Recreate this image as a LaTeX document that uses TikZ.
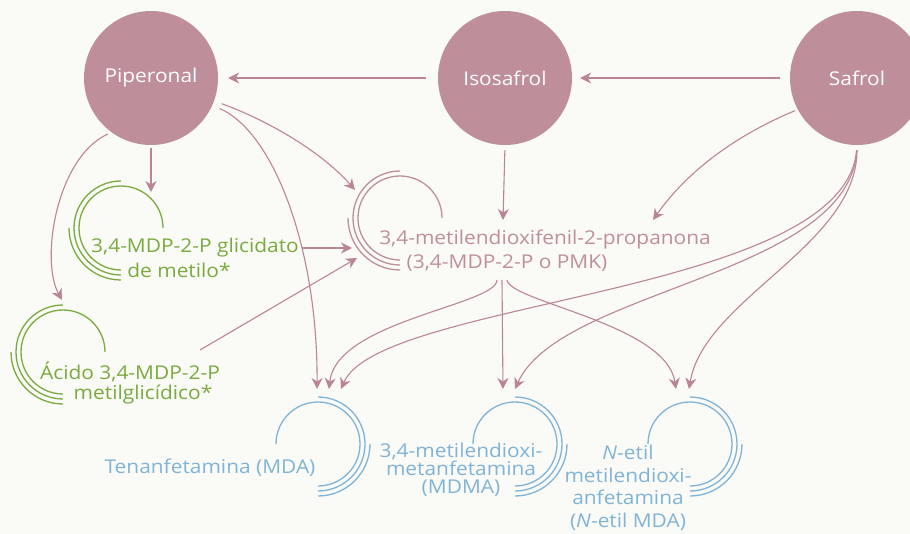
\documentclass[tikz,border=0pt]{standalone}
\usepackage{fontspec}
\setmainfont{Open Sans}[FakeStretch=1.1]
\usetikzlibrary{arrows.meta}
\definecolor{mauve}{RGB}{190,143,155}
\definecolor{arrowc}{RGB}{186,134,150}
\definecolor{leaf}{RGB}{122,170,62}
\definecolor{sky}{RGB}{128,180,214}
\definecolor{bgc}{RGB}{250,250,246}
\newcommand\arcsL[2]{%
  \draw[#2,arcline] ([shift={(0:42)}]#1) arc[start angle=0,end angle=-270,radius=42];
  \draw[#2,arcline] ([shift={(-90:47)}]#1) arc[start angle=-90,end angle=-270,radius=47];
  \draw[#2,arcline] ([shift={(-180:52)}]#1) arc[start angle=-180,end angle=-270,radius=52];}
\newcommand\arcsR[2]{%
  \draw[#2,arcline] ([shift={(180:42)}]#1) arc[start angle=-180,end angle=90,radius=42];
  \draw[#2,arcline] ([shift={(-90:47)}]#1) arc[start angle=-90,end angle=90,radius=47];
  \draw[#2,arcline] ([shift={(0:52)}]#1) arc[start angle=0,end angle=90,radius=52];}
\begin{document}
\begin{tikzpicture}[x=1pt,y=-1pt,
  circ/.style={circle,fill=mauve,minimum size=134pt,inner sep=0pt,text=white,font=\fontsize{19}{22}\selectfont},
  lbl/.style={inner sep=0pt,font=\fontsize{19}{22}\selectfont},
  arcline/.style={line width=1.3pt},
  conn/.style={draw=arrowc,line width=1.1pt,-{Stealth[length=11pt,width=11pt,inset=3.5pt]}},
  ]
\clip (0,0) rectangle (910,534);
\fill[bgc] (0,0) rectangle (910,534);

% source circles
\node[circ] (pip) at (151,78) {Piperonal};
\node[circ] (iso) at (505,78) {Isosafrol};
\node[circ] (saf) at (857,78) {Safrol};

% arc decorations
\coordinate (gliC) at (121,228);
\coordinate (aciC) at (63,352);
\coordinate (pmkC) at (400,218);
\coordinate (mdaC) at (318,444);
\coordinate (mdmaC) at (515,444);
\coordinate (etC) at (690,444);
\arcsL{gliC}{leaf}
\arcsL{aciC}{leaf}
\arcsL{pmkC}{mauve}
\arcsR{mdaC}{sky}
\arcsR{mdmaC}{sky}
\arcsR{etC}{sky}

% labels
\node[lbl,text=leaf] (gli1) at (195,248) {3,4-MDP-2-P glicidato};
\node[lbl,text=leaf] (gli2) at (179,270) {de metilo*};
\node[lbl,text=leaf] (aci1) at (130,372) {Ácido 3,4-MDP-2-P};
\node[lbl,text=leaf] (aci2) at (143,395) {metilglicídico*};
\node[lbl,text=mauve] (pmk1) at (545,240) {3,4-metilendioxifenil-2-propanona};
\node[lbl,text=mauve] (pmk2) at (507,263) {(3,4-MDP-2-P o PMK)};
\node[lbl,text=sky] (mda) at (210,468) {Tenanfetamina (MDA)};
\node[lbl,text=sky,align=center,font=\fontsize{19}{18}\selectfont] (mdma) at (461,470)
  {3,4-metilendioxi-\\metanfetamina\\(MDMA)};
\node[lbl,text=sky,align=center,font=\fontsize{19}{22.5}\selectfont] (etil) at (628,488)
  {\textit{N}-etil\\metilendioxi-\\anfetamina\\(\textit{N}-etil MDA)};

% connector end points
\coordinate (gliIn) at (151,192);
\coordinate (aciIn) at (62,300);
\coordinate (pmkA) at (355,190);
\coordinate (pmkB) at (352,248);
\coordinate (pmkC2) at (357,258);
\coordinate (pmkD) at (503,220);
\coordinate (pmkE) at (653,220);
\coordinate (aciOut) at (200,350);
\coordinate (pmkOut) at (502,280);
\coordinate (mda1) at (317,389);
\coordinate (mda2) at (329,389);
\coordinate (mda3) at (341,389);
\coordinate (mdma1) at (503,389);
\coordinate (mdma2) at (515,389);
\coordinate (et1) at (676,389);
\coordinate (et2) at (689,389);

% connectors
\draw[conn,shorten <=12pt,shorten >=10pt] (iso.west) -- (pip.east);
\draw[conn,shorten <=10pt,shorten >=8pt] (saf.west) -- (iso.east);
\draw[conn,shorten <=3pt] (pip.south) -- (gliIn);
\draw[conn,shorten <=8pt] (pip.-20) .. controls +(50,18) and +(-35,-40) .. (pmkA);
\draw[conn,shorten <=8pt] (pip.-24) .. controls +(62,27) and +(1,-138) .. (mda1);
\draw[conn,shorten <=4pt] (pip.-126) .. controls +(-55,25) and +(-22,-40) .. (aciIn);
\draw[conn,shorten <=3pt] (gli1.east) -- (gli1.east -| pmkB);
\draw[conn] (aciOut) -- (pmkC2);
\draw[conn,shorten <=5pt] (iso.south) -- (pmkD);
\draw[conn,shorten <=3pt] (saf.-152) .. controls +(-60,25) and +(35,-50) .. (pmkE);
\draw[conn,shorten <=5pt] (saf.south) .. controls +(0,100) and +(15,-90) .. (et2);
\draw[conn,shorten <=5pt] (saf.south) .. controls +(-7,130) and +(45,-100) .. (mdma2);
\draw[conn,shorten <=5pt] (saf.south) .. controls +(-12,150) and +(39,-90) .. (mda3);
\draw[conn] ([xshift=-5pt]pmkOut) .. controls +(0,25) and +(7,-68) .. (mda2);
\draw[conn] (pmkOut) -- (mdma1);
\draw[conn] ([xshift=5pt]pmkOut) .. controls +(3,22) and +(-10,-65) .. (et1);
\end{tikzpicture}
\end{document}
